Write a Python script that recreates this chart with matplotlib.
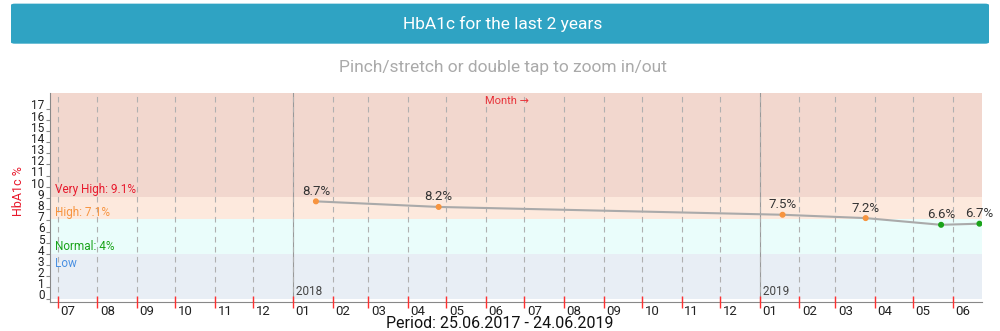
import numpy as np
import matplotlib
matplotlib.use("Agg")
import matplotlib.pyplot as plt
import matplotlib.dates as mdates
import matplotlib.transforms as mtransforms
from matplotlib.patches import FancyBboxPatch
from datetime import datetime

plt.rcParams['font.family'] = ['Roboto', 'DejaVu Sans']

# data
dates = ["2018-01-19", "2018-04-25", "2019-01-19", "2019-03-25", "2019-05-23", "2019-06-22"]
values = [8.7, 8.2, 7.5, 7.2, 6.6, 6.7]
labels = ["8.7%", "8.2%", "7.5%", "7.2%", "6.6%", "6.7%"]
period_start = "2017-06-25"
period_end = "2019-06-24"

# bands: edges, colours, labels
band_edges = [0, 4, 7.1, 9.1, 18.4]
band_colors = ["#e8eef5", "#eafdfb", "#fde9dd", "#f2d7ce"]
band_labels = ["Low", "Normal: 4%", "High: 7.1%", "Very High: 9.1%"]
band_text_colors = ["#4a90e2", "#1aa31a", "#f7943f", "#e8192c"]
band_label_y = [2.8, 4.3, 7.35, 9.45]

x = [datetime.strptime(d, "%Y-%m-%d") for d in dates]
x0 = datetime.strptime(period_start, "%Y-%m-%d")
x1 = datetime.strptime(period_end, "%Y-%m-%d")

fig = plt.figure(figsize=(10, 3.31), dpi=100)

# title bar
bar = FancyBboxPatch((0.011, 0.868), 0.978, 0.121, boxstyle="round,pad=0,rounding_size=0.004",
                     transform=fig.transFigure, facecolor="#2fa3c3", edgecolor="none")
fig.patches.append(bar)
fig.text(0.503, 0.928, "HbA1c for the last 2 years", color="white", fontsize=12.5,
         ha="center", va="center")
fig.text(0.503, 0.795, "Pinch/stretch or double tap to zoom in/out", color="#aaaaaa",
         fontsize=12.5, ha="center", va="center")

ax = fig.add_axes([0.05, 0.089, 0.932, 0.630])
ax.set_xlim(x0, x1)
ax.set_ylim(-0.27, 18.4)

for i in range(4):
    ax.axhspan(band_edges[i], band_edges[i + 1], color=band_colors[i], lw=0, zorder=0)
    ax.text(0.005, band_label_y[i], band_labels[i], color=band_text_colors[i], fontsize=8.5,
            transform=ax.get_yaxis_transform())

# month grid
ax.xaxis.set_major_locator(mdates.MonthLocator())
ax.xaxis.set_major_formatter(mdates.DateFormatter("%m"))
ax.grid(axis="x", color="#b0b0b0", linestyle=(0, (5, 4)), linewidth=0.8)
ax.set_axisbelow(False)

# year lines
for yr in [2018, 2019]:
    d = datetime(yr, 1, 1)
    ax.axvline(d, color="#999999", linewidth=0.8, zorder=1)
    ax.text(d, 0.6, " " + str(yr), color="#444444", fontsize=8.5, ha="left", va="center")

# line and points
ax.plot(x, values, color="#aaaaaa", linewidth=1.5, zorder=3)
pt_colors = ["#f7943f" if v >= 7.1 else "#1aa31a" for v in values]
ax.scatter(x, values, c=pt_colors, s=11, zorder=4)
for xi, vi, lab in zip(x, values, labels):
    ax.annotate(lab, (xi, vi), xytext=(0, 2.5), textcoords="offset points", ha="center",
                va="bottom", fontsize=9.5, color="#333333", zorder=5)

ax.text(0.49, 0.985, "Month \u2192", color="#e8333a", fontsize=8, ha="center", va="top",
        transform=ax.transAxes)

# axes styling
for s in ["top", "right"]:
    ax.spines[s].set_visible(False)
ax.spines["left"].set_color("#888888")
ax.spines["bottom"].set_color("#888888")
ax.set_yticks(np.arange(0, 18))
ax.tick_params(axis="y", length=3, color="#888888", labelsize=8.5, pad=1, labelcolor="#222222")
for lab in ax.get_yticklabels():
    lab.set_transform(lab.get_transform() + mtransforms.ScaledTranslation(0, 3 / 72, fig.dpi_scale_trans))
ax.tick_params(axis="x", direction="inout", length=8, color="#ff3030", width=1,
               labelsize=9.5, pad=-1.5, labelcolor="#222222")
for lab in ax.get_xticklabels():
    lab.set_horizontalalignment("left")
    lab.set_transform(lab.get_transform() + mtransforms.ScaledTranslation(2 / 72, 0, fig.dpi_scale_trans))

ax.set_ylabel("HbA1c %", color="#e8192c", fontsize=9)
ax.yaxis.set_label_coords(-0.027, 0.53)

fig.text(0.5, 0.022, "Period: 25.06.2017 - 24.06.2019", color="#111111", fontsize=11.5,
         ha="center", va="center")

fig.savefig("out.png", dpi=100)
